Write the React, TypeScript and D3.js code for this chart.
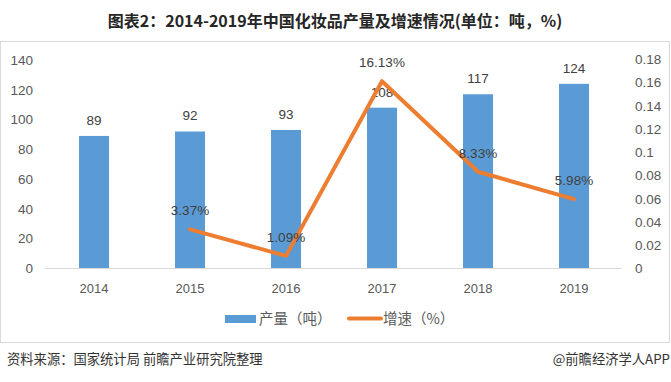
import React from "react";
import * as d3 from "d3";

const years = ["2014", "2015", "2016", "2017", "2018", "2019"];
const output = [89, 92, 93, 108, 117, 124];
const growthYears = ["2015", "2016", "2017", "2018", "2019"];
const growth = [0.0337, 0.0109, 0.1613, 0.0833, 0.0598];
const growthLabels = ["3.37%", "1.09%", "16.13%", "8.33%", "5.98%"];
const leftTicks = [0, 20, 40, 60, 80, 100, 120, 140];
const rightTicks = [0, 0.02, 0.04, 0.06, 0.08, 0.1, 0.12, 0.14, 0.16, 0.18];

const W = 671;
const H = 382;
const BLUE = "#5B9BD5";
const ORANGE = "#ED7D31";
const TXT = "#595959";
const FONT = "'Liberation Sans', Arial, sans-serif";
const CJK = "'Noto Sans CJK SC', sans-serif";

export default function App() {
  const x = d3.scaleBand().domain(years).range([46, 622]).paddingInner(0.6875).paddingOuter(0.34375);
  const yL = d3.scaleLinear().domain([0, 140]).range([268.5, 60]);
  const yR = d3.scaleLinear().domain([0, 0.18]).range([268.5, 59.5]);
  const cx = (d: string) => (x(d) as number) + x.bandwidth() / 2;
  const line = d3
    .line<number>()
    .x((_, i) => cx(growthYears[i]))
    .y((d) => yR(d));

  return (
    <svg width={W} height={H} style={{ position: "absolute", left: 0, top: 0, background: "#fff" }}>
      <rect x={0} y={0} width={W} height={H} fill="#fff" />
      <text x={335} y={27} textAnchor="middle" fontFamily={CJK} fontWeight="bold" fontSize={16} fill="#262626">
        图表2：2014-2019年中国化妆品产量及增速情况(单位：吨，%)
      </text>
      <rect x={0.5} y={41.5} width={669} height={301} fill="none" stroke="#d9d9d9" strokeWidth={1} />

      {leftTicks.map((t) => (
        <text key={"l" + t} x={33} y={yL(t)} dy="0.35em" textAnchor="end" fontFamily={FONT} fontSize={13.5} fill={TXT}>
          {t}
        </text>
      ))}
      {rightTicks.map((t) => (
        <text key={"r" + t} x={635} y={yR(t)} dy="0.35em" textAnchor="start" fontFamily={FONT} fontSize={13.5} fill={TXT}>
          {d3.format("~g")(t)}
        </text>
      ))}

      {years.map((yr, i) => (
        <g key={yr}>
          <rect x={x(yr)} y={yL(output[i])} width={x.bandwidth()} height={yL(0) - yL(output[i])} fill={BLUE} />
          <text x={cx(yr)} y={yL(output[i]) - 11} textAnchor="middle" fontFamily={FONT} fontSize={13.5} fill="#404040">
            {output[i]}
          </text>
          <text x={cx(yr)} y={293} textAnchor="middle" fontFamily={FONT} fontSize={13} fill={TXT}>
            {yr}
          </text>
        </g>
      ))}
      <line x1={45} x2={622} y1={268.5} y2={268.5} stroke="#d9d9d9" strokeWidth={1} />

      <path d={line(growth) || ""} fill="none" stroke={ORANGE} strokeWidth={4} strokeLinejoin="round" strokeLinecap="round" />
      {growth.map((g, i) => (
        <text key={growthYears[i]} x={cx(growthYears[i])} y={yR(g) - 14} textAnchor="middle" fontFamily={FONT} fontSize={13.5} fill="#404040">
          {growthLabels[i]}
        </text>
      ))}

      <rect x={225} y={315} width={31} height={8} fill={BLUE} />
      <text x={259} y={324} fontFamily={CJK} fontSize={14.5} fill={TXT}>产量（吨）</text>
      <line x1={349} x2={381} y1={318.5} y2={318.5} stroke={ORANGE} strokeWidth={4} strokeLinecap="round" />
      <text x={383} y={324} fontFamily={CJK} fontSize={14.5} fill={TXT}>增速（%）</text>

      <text x={7} y={364} fontFamily={CJK} fontSize={13.3} fill="#333">资料来源：国家统计局 前瞻产业研究院整理</text>
      <text x={670} y={364} textAnchor="end" fontFamily={CJK} fontSize={13.3} fill="#333">@前瞻经济学人APP</text>
    </svg>
  );
}
